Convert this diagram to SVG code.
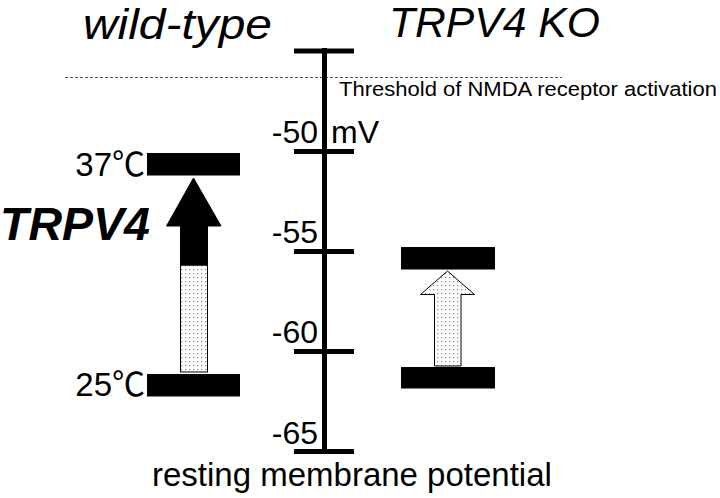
<svg xmlns="http://www.w3.org/2000/svg" width="720" height="498" viewBox="0 0 720 498">
<style>
.t{font-family:"Liberation Sans",Arial,"Noto Sans CJK JP",sans-serif;fill:#000}
.ax{stroke:#000;stroke-width:5;fill:none}
.bar{fill:#000}
.dot{fill:url(#dots);stroke:#000;stroke-width:1}
</style>
<defs>
<pattern id="dots" width="4" height="4" patternUnits="userSpaceOnUse">
<rect width="4" height="4" fill="#fff"/>
<rect x="1" y="1" width="1.2" height="1.2" fill="#888"/>
</pattern>
</defs>
<rect width="720" height="498" fill="#fff"/>
<text class="t" x="83" y="38.5" font-size="42.5" font-style="italic" textLength="189" lengthAdjust="spacingAndGlyphs">wild-type</text>
<text class="t" x="389" y="37" font-size="42" font-style="italic" textLength="211" lengthAdjust="spacingAndGlyphs">TRPV4 KO</text>
<g id="connectors">
<line x1="65" y1="77.5" x2="562" y2="77.5" stroke="#555" stroke-width="1" stroke-dasharray="3,2"/>
</g>
<g id="axis">
<line class="ax" x1="324.5" y1="48" x2="324.5" y2="454"/>
<line class="ax" x1="294" y1="51" x2="354" y2="51"/>
<line class="ax" x1="294" y1="151.5" x2="354" y2="151.5"/>
<line class="ax" x1="294" y1="251.5" x2="354" y2="251.5"/>
<line class="ax" x1="294" y1="351.5" x2="354" y2="351.5"/>
<line class="ax" x1="294" y1="451.5" x2="354" y2="451.5"/>
<text class="t" x="318" y="143" font-size="32" text-anchor="end">-50</text>
<text class="t" x="331" y="143" font-size="32">mV</text>
<text class="t" x="318" y="243" font-size="32" text-anchor="end">-55</text>
<text class="t" x="318" y="343" font-size="32" text-anchor="end">-60</text>
<text class="t" x="318" y="444" font-size="32" text-anchor="end">-65</text>
</g>
<text class="t" x="339" y="96" font-size="20.5" textLength="378" lengthAdjust="spacingAndGlyphs">Threshold of NMDA receptor activation</text>
<g id="wt-37">
<rect class="bar" x="147" y="153" width="93" height="22.5"/>
<text class="t" x="145" y="176" font-size="33" text-anchor="end">37℃</text>
</g>
<g id="wt-25">
<rect class="bar" x="147" y="374" width="93" height="22.5"/>
<text class="t" x="145" y="396" font-size="33" text-anchor="end">25℃</text>
</g>
<g id="wt-arrow">
<rect class="dot" x="180.5" y="265" width="27" height="107"/>
<polygon fill="#000" stroke="#000" stroke-width="1" points="193.5,178 221,226 207.5,226 207.5,265 180.5,265 180.5,226 166.5,226"/>
</g>
<text class="t" x="0" y="240" font-size="46" font-weight="bold" font-style="italic" textLength="150" lengthAdjust="spacingAndGlyphs">TRPV4</text>
<g id="ko-top">
<rect class="bar" x="401" y="247" width="94" height="22.5"/>
</g>
<g id="ko-bottom">
<rect class="bar" x="401" y="367" width="94" height="21.5"/>
</g>
<g id="ko-arrow">
<polygon class="dot" points="447.5,271 474.5,294.5 461,294.5 461,366 434.5,366 434.5,294.5 420.5,294.5"/>
</g>
<text class="t" x="152" y="486" font-size="33">resting membrane potential</text>
</svg>
